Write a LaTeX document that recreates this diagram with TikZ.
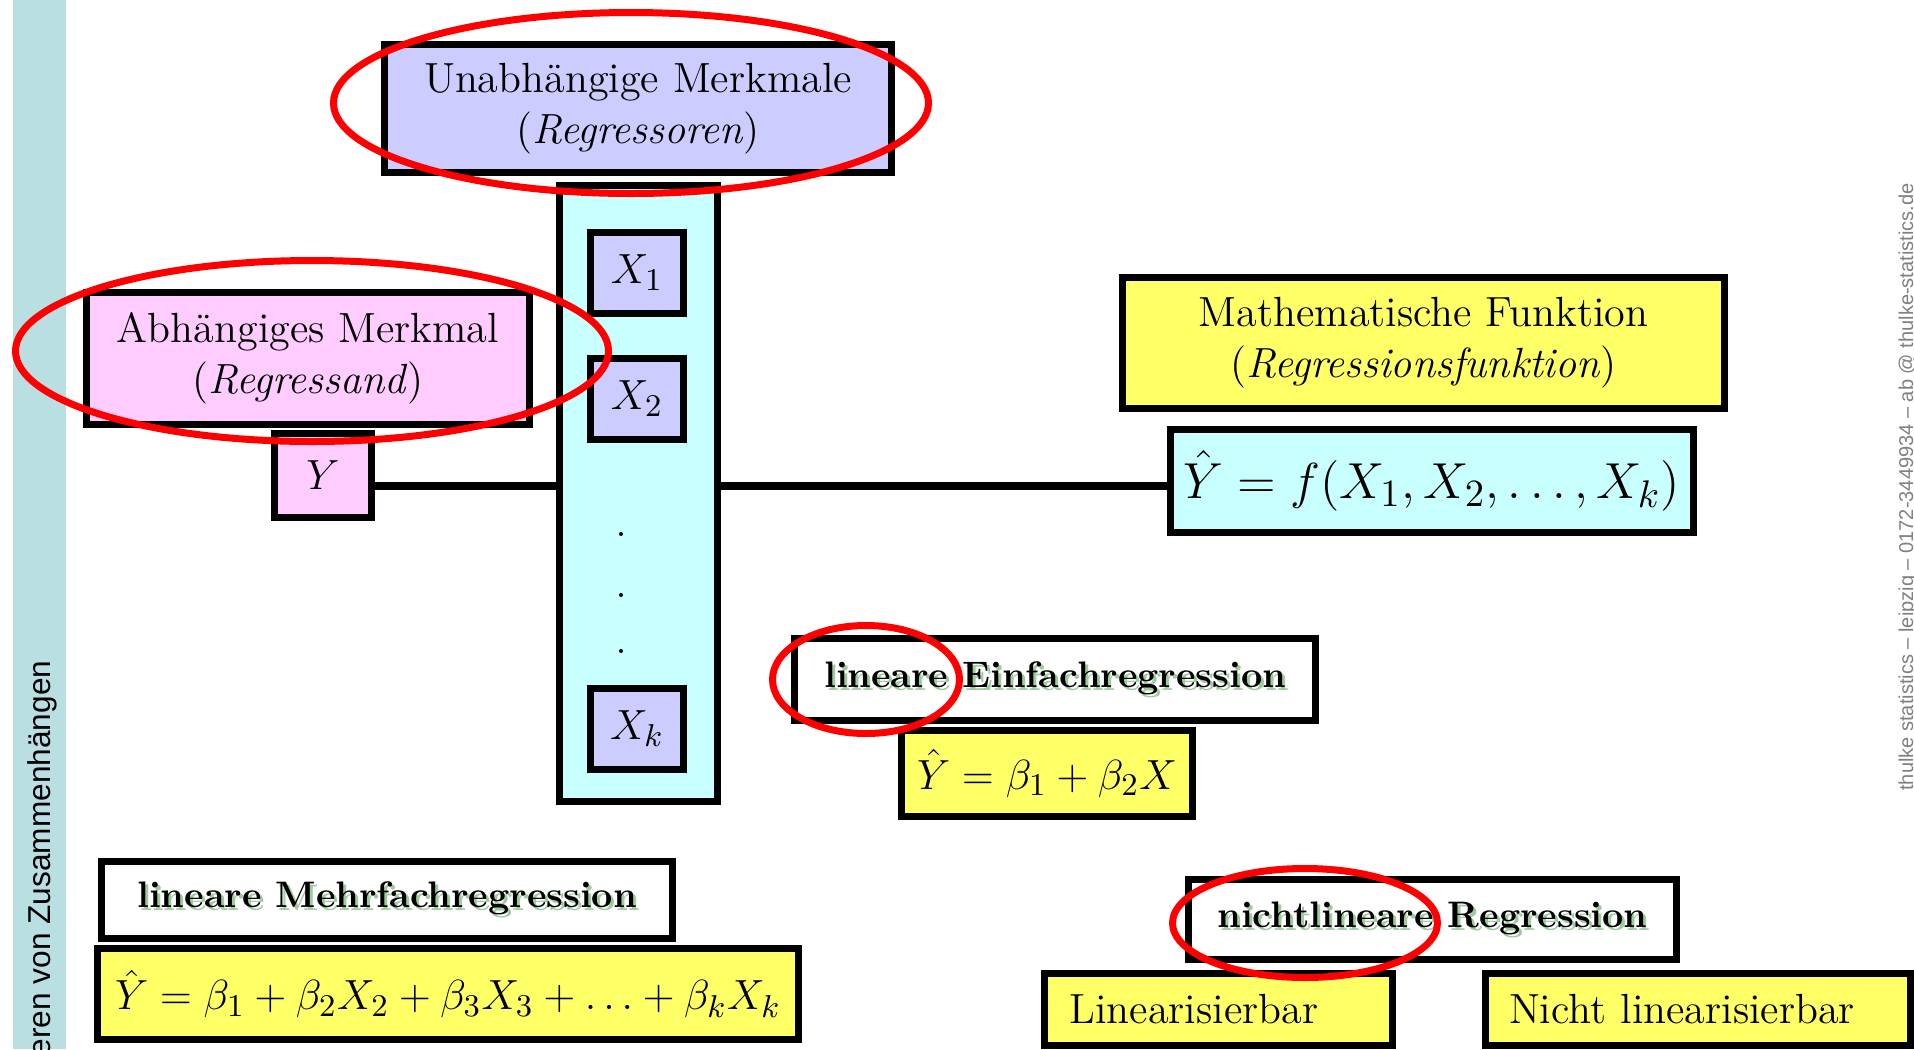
\documentclass[tikz,border=0pt]{standalone}
\usepackage{fontspec}
\usepackage{amsmath}
\usepackage{tikz}
\usetikzlibrary{calc}
\newfontfamily\sidefont{Liberation Sans}
\definecolor{stripblue}{HTML}{BADFE3}
\definecolor{glowgreen}{HTML}{9FCB9F}
\definecolor{lila}{HTML}{CCCCFF}
\definecolor{rosa}{HTML}{FFCCFF}
\definecolor{tuerkis}{HTML}{C8FFFF}
\definecolor{gelb}{HTML}{FFFF66}
\newcommand{\glowtext}[1]{\makebox[0pt][l]{\textcolor{glowgreen}{\hspace{0.3mm}\raisebox{-0.3mm}{#1}}}#1}

\begin{document}
\begin{tikzpicture}[
    x=0.1mm, y=-0.1mm,
    box/.style={draw, line width=0.7mm, inner sep=0pt, align=center, font=\fontsize{12}{14.5}\selectfont},
    lilabox/.style={box, fill=lila},
    rosabox/.style={box, fill=rosa},
    tuerkisbox/.style={box, fill=tuerkis},
    gelbbox/.style={box, fill=gelb},
    weissbox/.style={box, fill=white, font=\fontsize{10.5}{13}\selectfont\bfseries},
    varbox/.style={lilabox, minimum width=9.3mm, minimum height=8.1mm, font=\fontsize{13}{15}\selectfont},
    conn/.style={line width=0.8mm},
    marker/.style={draw=red, line width=0.7mm}
]
\clip (0,0) rectangle (1914,1049);
\fill[stripblue] (13,0) rectangle (66,1049);
\node[rotate=90, anchor=base east, inner sep=0pt, font=\sidefont\fontsize{9}{11}\selectfont] (kapitel) at (50,660) {eren von Zusammenhängen};
\node[rotate=90, anchor=base, inner sep=0pt, text=gray, font=\sidefont\fontsize{5.7}{7}\selectfont] (fusszeile) at (1913,487) {thulke statistics – leipzig – 0172-3449934 – ab @ thulke-statistics.de};

\node[lilabox, minimum width=50.7mm, minimum height=12.8mm] (regr) at (638,108.5) {Unabhängige Merkmale\\(\textit{Regressoren})};
\node[rosabox, minimum width=44.3mm, minimum height=13.2mm] (regd) at (308,358.5) {Abhängiges Merkmal\\(\textit{Regressand})};
\node[rosabox, minimum width=9.7mm, minimum height=8.4mm, font=\fontsize{13}{15}\selectfont] (ybox) at (323,475.5) {$Y$};
\node[tuerkisbox, minimum width=15.8mm, minimum height=61.6mm] (xcol) at (638.5,493.5) {};
\node[varbox] (x1) at (637,272.5) {$X_1$};
\node[varbox] (x2) at (637,398.5) {$X_2$};
\node[varbox] (xk) at (637,728.5) {$X_k$};
\foreach \y in {534,595,651}
    \fill (621,\y) circle (0.2mm);

\node[gelbbox, minimum width=60.2mm, minimum height=13.1mm] (funk) at (1423.5,343) {Mathematische Funktion\\(\textit{Regressionsfunktion})};
\node[tuerkisbox, minimum width=52.3mm, minimum height=10.3mm, font=\fontsize{15.5}{18}\selectfont] (yhat) at (1432,481) {$\hat{Y} = f(X_1, X_2, \ldots, X_k)$};

\node[weissbox, minimum width=52.1mm, minimum height=8.2mm] (einf) at (1055,679.5) {\glowtext{lineare Einfachregression}};
\node[gelbbox, minimum width=29.1mm, minimum height=8.6mm, font=\fontsize{13}{15}\selectfont] (einff) at (1047,773.5) {$\hat{Y} = \beta_1 + \beta_2 X$};

\node[weissbox, minimum width=57.1mm, minimum height=7.7mm] (mehr) at (387,900) {\glowtext{lineare Mehrfachregression}};
\node[gelbbox, minimum width=70.1mm, minimum height=9.1mm, font=\fontsize{12.5}{15}\selectfont] (mehrf) at (448,994) {$\hat{Y} = \beta_1 + \beta_2 X_2 + \beta_3 X_3 + \ldots + \beta_k X_k$};

\node[weissbox, minimum width=48.8mm, minimum height=8mm] (nlin) at (1432.5,919.5) {\glowtext{nichtlineare Regression}};
\node[gelbbox, minimum height=7.2mm, inner xsep=2.5mm, text width=29.8mm, align=left] (linb) at (1218.5,1009.5) {Linearisierbar};
\node[gelbbox, minimum height=7.2mm, inner xsep=2.35mm, text width=37.8mm, align=left] (nlinb) at (1698,1009.5) {Nicht linearisierbar};

\draw[conn] ([yshift=-1.05mm]ybox.east) -- ([yshift=-1.05mm]ybox.east -| xcol.west);
\draw[conn] ([yshift=-0.5mm]yhat.west) -- ([yshift=-0.5mm]yhat.west -| xcol.east);

\draw[marker] (631,103) ellipse [x radius=29.75mm, y radius=9.05mm];
\draw[marker] (312,351) ellipse [x radius=29.65mm, y radius=9.05mm];
\draw[marker] (866,679.5) ellipse [x radius=9.35mm, y radius=5.4mm];
\draw[marker] (1305,923) ellipse [x radius=13.25mm, y radius=5.45mm];
\end{tikzpicture}
\end{document}
